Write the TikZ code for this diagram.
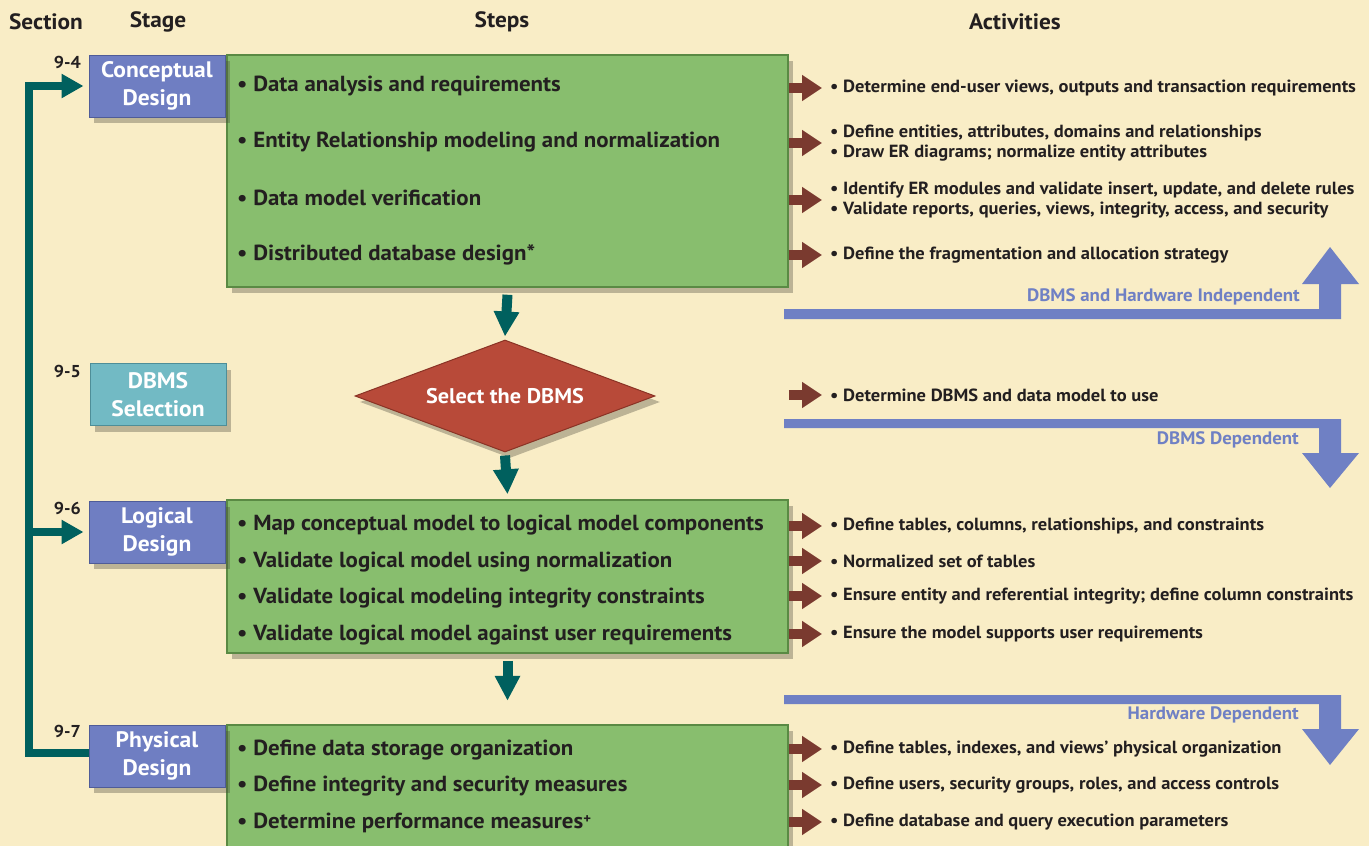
\documentclass[tikz,border=0pt]{standalone}
\usepackage{fontspec}
\setmainfont{PT Sans}[FakeStretch=1.05]
\usetikzlibrary{arrows.meta,shapes.geometric,shadows}
\definecolor{bgc}{HTML}{F9EDC6}
\definecolor{greenf}{HTML}{88BE6E}
\definecolor{greend}{HTML}{5A8A44}
\definecolor{bluest}{HTML}{6F7EC2}
\definecolor{bluestd}{HTML}{4F5C98}
\definecolor{tealbox}{HTML}{72BAC4}
\definecolor{tealboxd}{HTML}{4E8E98}
\definecolor{diaf}{HTML}{B84A39}
\definecolor{diad}{HTML}{8A3325}
\definecolor{tealc}{HTML}{00605E}
\definecolor{redarr}{HTML}{7A3A2F}
\definecolor{bluearr}{HTML}{6F80C4}
\definecolor{txt}{HTML}{231F20}
\tikzset{
  hdr/.style={font=\fontsize{22.2}{26}\selectfont\bfseries, text=txt, inner sep=0},
  secnum/.style={font=\fontsize{17.2}{20}\selectfont\bfseries, text=txt, inner sep=0, anchor=east},
  stagebox/.style={rectangle, fill=bluest, draw=bluestd, line width=1pt, minimum width=136pt, minimum height=62pt,
     text=white, font=\fontsize{22.4}{28}\selectfont\bfseries, align=center, inner sep=0,
     drop shadow={shadow xshift=5pt, shadow yshift=-6pt, fill=black!70!bgc, opacity=0.35}},
  greenbox/.style={rectangle, fill=greenf, draw=greend, line width=1.5pt, inner sep=0,
     drop shadow={shadow xshift=5pt, shadow yshift=-6pt, fill=black!70!bgc, opacity=0.35}},
  steptext/.style={font=\fontsize{21.8}{26}\selectfont\bfseries, text=txt, inner sep=0, anchor=west, yshift=-2pt},
  acttext/.style={font=\fontsize{17.6}{20}\selectfont\bfseries, text=txt, inner sep=0, anchor=west, align=left},
  bluelabel/.style={font=\fontsize{18}{20}\selectfont\bfseries, text=bluearr, inner sep=0, anchor=east},
  redarrow/.style={draw=redarr, line width=10pt, -{Triangle[length=20pt,width=25pt]}},
  tealarrow/.style={draw=tealc, line width=10pt, -{Triangle[length=25pt,width=24pt]}},
  tealline/.style={draw=tealc, line width=8.5pt, line join=miter},
  bluearrow/.style={fill=bluearr, draw=none},
}
\begin{document}
\begin{tikzpicture}[x=1pt,y=1pt]
\fill[bgc] (0,0) rectangle (1369,-846);
\useasboundingbox (0,0) rectangle (1369,-846);

% headers
\node[hdr] (hsec) at (46,-22) {Section};
\node[hdr] (hstage) at (158,-22) {Stage};
\node[hdr] (hsteps) at (502,-22) {Steps};
\node[hdr] (hact) at (1015,-22) {Activities};

% section numbers
\node[secnum] (s4) at (81,-62) {9-4};
\node[secnum] (s5) at (81,-371) {9-5};
\node[secnum] (s6) at (81,-508) {9-6};
\node[secnum] (s7) at (81,-731) {9-7};

% green boxes
\node[greenbox, minimum width=561pt, minimum height=232pt] (g1) at (507.5,-171) {};
\node[greenbox, minimum width=561pt, minimum height=153pt] (g2) at (507.5,-576.5) {};
\node[greenbox, minimum width=561pt, minimum height=140pt] (g3) at (507.5,-795) {};

% stage boxes
\node[stagebox] (cd) at (157,-86) {Conceptual\\Design};
\node[stagebox, fill=tealbox, draw=tealboxd] (ds) at (158,-394.5) {DBMS\\Selection};
\node[stagebox] (ld) at (157,-532) {Logical\\Design};
\node[stagebox] (pd) at (157,-756) {Physical\\Design};

% diamond
\node[diamond, aspect=2.68, minimum width=300pt, minimum height=112pt, inner sep=0,
      fill=diaf, draw=diad, line width=1pt, text=white, font=\fontsize{21.2}{24}\selectfont\bfseries,
      drop shadow={shadow xshift=5pt, shadow yshift=-6pt, fill=black!70!bgc, opacity=0.35}] (dia) at (505,-396) {Select the DBMS};

% steps
\node[steptext] (t1) at (237,-84) {• Data analysis and requirements};
\node[steptext] (t2) at (237,-140) {• Entity Relationship modeling and normalization};
\node[steptext] (t3) at (237,-196) {• Data model verification};
\node[steptext] (t4) at (237,-253) {• Distributed database design*};
\node[steptext] (t5) at (237,-523) {• Map conceptual model to logical model components};
\node[steptext] (t6) at (237,-560) {• Validate logical model using normalization};
\node[steptext] (t7) at (237,-596) {• Validate logical modeling integrity constraints};
\node[steptext] (t8) at (237,-633) {• Validate logical model against user requirements};
\node[steptext] (t9) at (237,-748) {• Define data storage organization};
\node[steptext] (t10) at (237,-784) {• Define integrity and security measures};
\node[steptext] (t11) at (237,-821) {• Determine performance measures{\fontsize{14}{14}\selectfont\raisebox{5pt}{+}}};

% activities
\node[acttext] (a1) at (830,-88) {• Determine end-user views, outputs and transaction requirements};
\node[acttext] (a2) at (830,-143) {• Define entities, attributes, domains and relationships\\• Draw ER diagrams; normalize entity attributes};
\node[acttext] (a3) at (830,-200) {• Identify ER modules and validate insert, update, and delete rules\\• Validate reports, queries, views, integrity, access, and security};
\node[acttext] (a4) at (830,-255) {• Define the fragmentation and allocation strategy};
\node[acttext] (a5) at (830,-395) {• Determine DBMS and data model to use};
\node[acttext] (a6) at (830,-526) {• Define tables, columns, relationships, and constraints};
\node[acttext] (a7) at (830,-561) {• Normalized set of tables};
\node[acttext] (a8) at (830,-596) {• Ensure entity and referential integrity; define column constraints};
\node[acttext] (a9) at (830,-634) {• Ensure the model supports user requirements};
\node[acttext] (a10) at (830,-749) {• Define tables, indexes, and views’ physical organization};
\node[acttext] (a11) at (830,-785) {• Define users, security groups, roles, and access controls};
\node[acttext] (a12) at (830,-822) {• Define database and query execution parameters};

% red arrows
\foreach \a/\g in {a1/g1,a2/g1,a3/g1,a4/g1,a6/g2,a7/g2,a8/g2,a9/g2,a10/g3,a11/g3,a12/g3}
  \draw[redarrow] (\g.east |- \a.west) -- ([xshift=-8pt]\a.west);
\coordinate (a5s) at (g1.east |- a5.west);
\draw[redarrow] (a5s) -- ([xshift=-8pt]a5.west);

% teal flow arrows
\draw[tealarrow] ([yshift=-7pt]g1.south) -- ([yshift=3pt]dia.north);
\draw[tealarrow] ([yshift=-3pt]dia.south) -- ([yshift=5pt]g2.north);
\coordinate (g2b) at ([yshift=-47pt]g2.south);
\draw[tealarrow] ([yshift=-7pt]g2.south) -- (g2b);

% left connector
\coordinate (lcb) at (29,-753);
\draw[tealline, -{Triangle[length=22pt,width=23pt]}] (pd.west |- lcb) -- (lcb) |- ([xshift=-5pt]cd.west);
\coordinate (lcm) at (29,-532);
\draw[tealline, -{Triangle[length=22pt,width=23pt]}] (lcm) -- ([xshift=-5pt]ld.west);

% blue arrows
\fill[bluearrow] (784,-309) -- (1319,-309) -- (1319,-284) -- (1302,-284) -- (1330,-247) -- (1359,-284) -- (1341,-284) -- (1341,-319) -- (784,-319) -- cycle;
\fill[bluearrow] (784,-419) -- (1341,-419) -- (1341,-453) -- (1359,-453) -- (1330,-488) -- (1302,-453) -- (1319,-453) -- (1319,-428) -- (784,-428) -- cycle;
\fill[bluearrow] (784,-695) -- (1341,-695) -- (1341,-729) -- (1359,-729) -- (1330,-765) -- (1302,-729) -- (1319,-729) -- (1319,-704) -- (784,-704) -- cycle;
\node[bluelabel] (l1) at (1300,-297) {DBMS and Hardware Independent};
\node[bluelabel] (l2) at (1299,-440) {DBMS Dependent};
\node[bluelabel] (l3) at (1299,-715) {Hardware Dependent};
\end{tikzpicture}
\end{document}
